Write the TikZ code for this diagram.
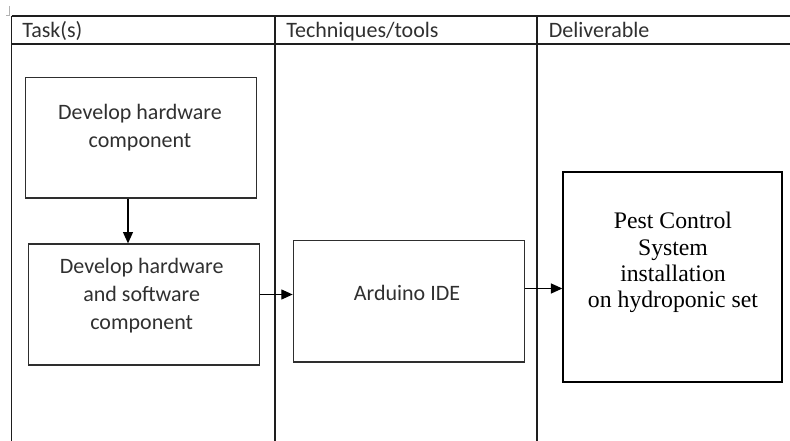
\documentclass[tikz,border=0pt]{standalone}
\usepackage{fontspec}
\setmainfont{Carlito}
\newfontfamily\timesf{Liberation Serif}
\usetikzlibrary{arrows.meta,calc}
\definecolor{tline}{HTML}{1E1E1E}
\definecolor{bline}{HTML}{2E2E2E}
\definecolor{ttext}{HTML}{303030}
\tikzset{
  tableline/.style={draw=tline,line width=1.1pt},
  taskbox/.style={draw=bline,line width=0.95pt,inner sep=0pt},
  pestbox/.style={draw=black,line width=1.5pt,inner sep=0pt},
  hdr/.style={anchor=base west,inner sep=0pt,text=ttext,font=\fontsize{16.5}{20}\selectfont},
  lbl/.style={align=center,inner sep=0pt,text=ttext,font=\fontsize{16.5}{21}\selectfont},
  plbl/.style={align=center,inner sep=0pt,text=black,font=\timesf\fontsize{17.8}{19.7}\selectfont},
  conn/.style={draw=black,line width=0.9pt,-{Triangle[length=8.5pt,width=7.5pt]}}
}
\begin{document}
\begin{tikzpicture}[x=0.75pt,y=-0.75pt]
\useasboundingbox (0,0) rectangle (790,441);
% corner mark
\draw[gray!60,line width=0.5pt] (9,6) -- (9,15) -- (6,15);
% table
\coordinate (tl) at (11.5,16);
\coordinate (tr) at (790,16);
\coordinate (hl) at (11.5,44);
\coordinate (hr) at (790,44);
\coordinate (c1t) at (275,16);
\coordinate (c1b) at (275,441);
\coordinate (c2t) at (537,16);
\coordinate (c2b) at (537,441);
\coordinate (lb) at (11.5,441);
\draw[tableline] (tl) -- (tr);
\draw[tableline] (hl) -- (hr);
\draw[tableline] (tl) -- (lb);
\draw[tableline] (c1t) -- (c1b);
\draw[tableline] (c2t) -- (c2b);
\node[hdr] (h1) at (22,37.5) {Task(s)};
\node[hdr] (h2) at (286,37.5) {Techniques/tools};
\node[hdr] (h3) at (548.5,37.5) {Deliverable};
% boxes
\node[taskbox,minimum width=231.4*0.75pt,minimum height=120.3*0.75pt] (b1) at (141,137.9) {};
\node[taskbox,minimum width=231.4*0.75pt,minimum height=121*0.75pt] (b2) at (144,304.5) {};
\node[taskbox,minimum width=231.4*0.75pt,minimum height=121.3*0.75pt] (ard) at (409,301.3) {};
\node[pestbox,minimum width=218.4*0.75pt,minimum height=210*0.75pt] (pest) at (672.5,277.3) {};
% texts
\node[lbl] (t1) at (140,128) {Develop hardware\\component};
\node[lbl] (t2) at (141.7,296) {Develop hardware\\and software\\component};
\node[lbl] (t3) at (407,293) {Arduino IDE};
\node[plbl] (t4) at (673,262.5) {Pest Control\\System\\installation\\on hydroponic set};
% connectors
\coordinate (ax) at (128,0);
\coordinate (ay1) at (0,294.5);
\coordinate (ay2) at (0,288.5);
\draw[conn] (b1.south -| ax) -- (b2.north -| ax);
\draw[conn] (b2.east |- ay1) -- (ard.west |- ay1);
\draw[conn] (ard.east |- ay2) -- (pest.west |- ay2);
\end{tikzpicture}
\end{document}
